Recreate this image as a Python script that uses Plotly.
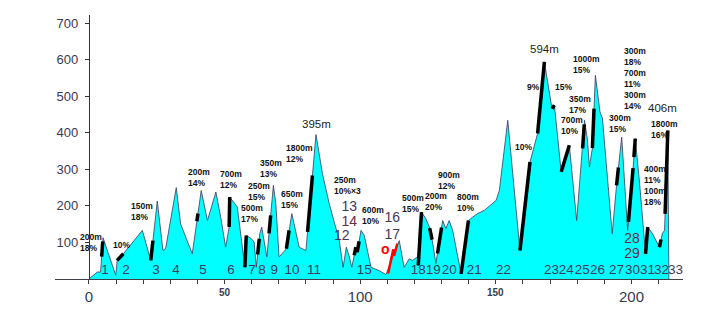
import plotly.graph_objects as go

# Route profile: distance (km) and elevation (m)
dist_km = [0, 3.1, 4.3, 5.2, 9.9, 10.4, 12.7, 19.7, 22.8, 25.2, 27.3, 28.3, 32.2, 33.8, 38.1,
           41.4, 43.7, 46.8, 48.6, 50.4, 51.7, 51.9, 54.7, 57.5, 58.0, 59.8, 60.9, 61.7, 63.0,
           63.7, 65.6, 68.0, 68.9, 70.1, 72.8, 73.8, 74.8, 75.6, 77.5, 80.0, 83.7, 86.1, 88.6,
           92.3, 93.7, 94.9, 95.9, 96.9, 98.4, 98.9, 100.3, 101.5, 104.0, 107.0, 109.5, 112.5,
           114.4, 116.2, 118.1, 119.3, 121.1, 121.4, 122.6, 124.2, 125.5, 126.6, 127.9, 130.4,
           131.6, 132.8, 134.1, 137.2, 139.9, 141.4, 143.3, 145.8, 148.8, 150.1, 151.3, 154.4,
           158.9, 162.6, 165.4, 167.9, 170.7, 171.6, 174.1, 177.1, 179.8, 182.0, 182.7, 183.8,
           184.5, 185.6, 186.7, 188.4, 189.3, 192.9, 194.5, 196.4, 197.7, 198.6, 200.0, 201.4,
           203.0, 205.2, 206.0, 207.7, 210.3, 211.4, 212.2, 213.4, 213.8]
elev_m = [0, 19, 19, 113, 10, 51, 69, 133, 51, 213, 78, 84, 250, 151, 69,
          242, 160, 238, 169, 87, 142, 224, 197, 32, 119, 111, 101, 32, 124,
          142, 60, 256, 207, 60, 83, 133, 179, 152, 87, 78, 395, 288, 206,
          105, 32, 87, 64, 32, 87, 73, 133, 119, 32, 23, 12, 69,
          105, 32, 55, 51, 60, 37, 183, 165, 142, 105, 42, 160,
          138, 160, 133, 14, 160, 169, 179, 188, 206, 215, 242, 434,
          78, 320, 398, 594, 466, 475, 293, 366, 160, 357, 434, 379,
          306, 358, 557, 457, 440, 124, 256, 388, 252, 133, 242, 384,
          262, 69, 142, 125, 87, 125, 133, 406, 0]

# Steep climb sections: [km start, m start, km end, m end]
climbs = [
    [4.7, 61, 5.1, 103], [10.4, 51, 12.7, 69], [22.8, 51, 23.6, 105],
    [39.8, 158, 40.2, 179], [51.7, 142, 51.9, 224], [57.5, 32, 58.0, 119],
    [62.2, 67, 62.8, 110], [66.4, 125, 67.0, 174], [72.8, 83, 73.8, 133],
    [80.6, 129, 82.4, 283], [97.8, 65, 98.4, 87], [98.9, 73, 99.6, 103],
    [121.4, 37, 122.6, 183], [125.6, 139, 126.5, 108], [128.5, 70, 130.0, 141],
    [137.2, 14, 139.9, 160], [158.9, 78, 162.6, 320], [165.4, 398, 167.9, 594],
    [170.7, 466, 171.6, 475], [174.1, 293, 177.1, 366], [182.0, 357, 182.6, 423],
    [185.6, 358, 186.2, 466], [194.5, 256, 195.2, 305], [198.9, 156, 200.6, 303],
    [200.9, 333, 201.4, 384], [205.2, 69, 206.0, 142], [210.3, 87, 210.9, 108],
    [212.4, 178, 213.4, 406],
]

# Red highlighted section
red_km = [110.3, 111.1, 112.2, 112.5, 113.7]
red_m = [15, 45, 81, 64, 97]

# Numbered points along the route
point_ids = ["1", "2", "3", "4", "5", "6", "7", "8", "9", "10", "11", "15", "18", "19",
             "20", "21", "22", "23", "24", "25", "26", "27", "30", "31", "32", "33"]
point_km = [5.9, 13.7, 24.7, 32.1, 42.1, 52.4, 60.1, 63.8, 68.3, 74.9, 83.0, 101.5, 121.4,
            126.9, 132.8, 142.1, 152.8, 170.5, 176.0, 181.9, 187.5, 194.5, 200.4, 205.9,
            211.1, 216.2]
point_m = [23] * len(point_ids)

upper_ids = ["12", "13", "14", "16", "17", "28", "29"]
upper_km = [93.2, 96.0, 96.0, 111.8, 111.8, 200.2, 200.2]
upper_m = [117, 195, 155, 166, 119, 108, 66]
upper_col = ["#3f3a5c", "#3f3a5c", "#6a2a48", "#3f3a5c", "#3f3a5c", "#6a2a48", "#6a2a48"]

# Climb notes: (text, km of left edge, m of block centre)
notes = [
    ("200m<br>18%", -4.1, 101), ("10%", 8.2, 93), ("150m<br>18%", 14.8, 184),
    ("200m<br>14%", 35.9, 277), ("700m<br>12%", 47.7, 273), ("500m<br>17%", 55.4, 180),
    ("250m<br>15%", 58.0, 239), ("350m<br>13%", 62.5, 301), ("650m<br>15%", 70.1, 217),
    ("1800m<br>12%", 71.9, 344), ("250m<br>10%×3", 89.6, 255), ("600m<br>10%", 99.8, 173),
    ("500m<br>15%", 114.7, 206), ("200m<br>20%", 123.2, 212), ("900m<br>12%", 128.0, 269),
    ("800m<br>10%", 135.0, 210), ("9%", 160.8, 524), ("15%", 171.0, 525),
    ("10%", 156.3, 361), ("1000m<br>15%", 177.8, 587), ("350m<br>17%", 176.3, 477),
    ("700m<br>10%", 173.4, 421), ("300m<br>15%", 190.9, 425),
    ("300m<br>18%<br>700m<br>11%<br>300m<br>14%", 196.6, 547),
    ("1800m<br>16%", 206.3, 410), ("400m<br>11%<br>100m<br>18%", 204.0, 255),
]

# Summit heights
summits = [("395m", 84.0, 425), ("594m", 167.9, 628), ("406m", 211.6, 469)]

x_ticks = list(range(0, 220, 10))
x_tick_text = ["0" if v == 0 else ("100" if v == 100 else ("200" if v == 200 else "")) for v in x_ticks]
y_ticks = [100, 200, 300, 400, 500, 600, 700]

num_font = "Liberation Sans, Arial"

fig = go.Figure()

fig.add_trace(go.Scatter(
    x=dist_km, y=elev_m, mode="lines", fill="tozeroy",
    fillcolor="#00ffff", line=dict(color="#3a3a58", width=0.8), hoverinfo="skip",
))

for k0, e0, k1, e1 in climbs:
    fig.add_trace(go.Scatter(
        x=[k0, k1], y=[e0, e1], mode="lines",
        line=dict(color="#000000", width=3.5), hoverinfo="skip",
    ))

fig.add_trace(go.Scatter(
    x=red_km, y=red_m, mode="lines",
    line=dict(color="#ff0000", width=2.5), hoverinfo="skip",
))

fig.add_trace(go.Scatter(
    x=point_km, y=point_m, mode="text", text=point_ids,
    textfont=dict(family=num_font, size=13.5, color="#3f3a5c"),
    hoverinfo="skip",
))
fig.add_trace(go.Scatter(
    x=upper_km, y=upper_m, mode="text", text=upper_ids,
    textfont=dict(family=num_font, size=14, color=upper_col),
    hoverinfo="skip",
))

annotations = []
for txt, k, m in notes:
    annotations.append(dict(
        x=k, y=m, xref="x", yref="y", text="<b>" + txt + "</b>", showarrow=False,
        xanchor="left", yanchor="middle", align="left",
        font=dict(family="Liberation Sans, Arial", size=8.5, color="#111111"),
    ))
for txt, k, m in summits:
    annotations.append(dict(
        x=k, y=m, xref="x", yref="y", text=txt, showarrow=False,
        xanchor="center", yanchor="middle",
        font=dict(family="Liberation Sans, Arial", size=11.5, color="#222222"),
    ))
annotations.append(dict(
    x=109.3, y=83, xref="x", yref="y", text="<b>o</b>", showarrow=False,
    xanchor="center", yanchor="middle",
    font=dict(family="Liberation Sans, Arial", size=14, color="#ff0000"),
))
for v in (50, 150):
    annotations.append(dict(
        x=v, y=-0.053, xref="x", yref="paper", text="<b>%d</b>" % v, showarrow=False,
        xanchor="center", yanchor="middle",
        font=dict(family="Liberation Sans, Arial", size=10, color="#3a3a50"),
    ))

fig.update_layout(
    width=720, height=322,
    margin=dict(l=55, r=37, t=15, b=43),
    paper_bgcolor="white", plot_bgcolor="white",
    showlegend=False,
    annotations=annotations,
    xaxis=dict(
        range=[-12.5, 219], showgrid=False, zeroline=False,
        showline=True, linecolor="#404048", linewidth=1,
        tickmode="array", tickvals=x_ticks, ticktext=x_tick_text,
        ticks="outside", ticklen=4, tickcolor="#404048",
        tickfont=dict(family="Liberation Sans, Arial", size=15, color="#3a3a50"),
        ticklabelstandoff=0,
    ),
    yaxis=dict(
        range=[0, 722], showgrid=False, zeroline=False,
        anchor="free", position=12.5 / 231.5,
        showline=True, linecolor="#303050", linewidth=1,
        tickmode="array", tickvals=y_ticks,
        ticks="outside", ticklen=4, tickcolor="#303050",
        tickfont=dict(family="Liberation Sans, Arial", size=13, color="#3a3a50"),
        ticklabelstandoff=4,
    ),
)

fig.write_html("out.html")
